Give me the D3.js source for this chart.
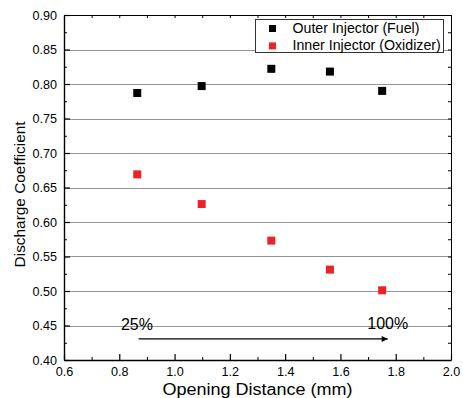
<!DOCTYPE html>
<html>
<head>
<meta charset="utf-8">
<script src="https://cdn.jsdelivr.net/npm/d3@7"></script>
<style>
  body { margin: 0; background: #fff; }
  svg { display: block; font-family: Arial, "Liberation Sans", sans-serif; }
  .grid line { stroke: #959595; stroke-width: 1; }
  .axis text { font-size: 12.6px; fill: #000; }
</style>
</head>
<body>
<svg width="463" height="398"></svg>
<script>
// opening distance (mm)
var openings = [0.865, 1.098, 1.35, 1.562, 1.751];
var outerCd = [0.787, 0.797, 0.822, 0.818, 0.790];
var innerCd = [0.669, 0.626, 0.573, 0.531, 0.501];
var seriesNames = ["Outer Injector (Fuel)", "Inner Injector (Oxidizer)"];
var seriesColors = ["#000000", "#ec2326"];
var xTicks = [0.6, 0.8, 1.0, 1.2, 1.4, 1.6, 1.8, 2.0];
var yTicks = [0.40, 0.45, 0.50, 0.55, 0.60, 0.65, 0.70, 0.75, 0.80, 0.85, 0.90];
var pctLabels = ["25%", "100%"];

var svg = d3.select("svg"),
    margin = {top: 15, right: 12, bottom: 38, left: 64},
    width = +svg.attr("width") - margin.left - margin.right,
    height = +svg.attr("height") - margin.top - margin.bottom;

var x = d3.scaleLinear().domain([0.6, 2.0]).range([0, width]),
    y = d3.scaleLinear().domain([0.40, 0.90]).range([height, 0]);

var g = svg.append("g")
    .attr("transform", "translate(" + margin.left + "," + margin.top + ")");

// horizontal grid
g.append("g")
    .attr("class", "grid")
    .selectAll("line")
    .data(yTicks.slice(1, -1))
    .enter().append("line")
    .attr("x1", 0)
    .attr("x2", width)
    .attr("y1", function(d) { return Math.round(y(d)) + 0.5; })
    .attr("y2", function(d) { return Math.round(y(d)) + 0.5; });

// minor ticks
var xMinor = d3.range(0.7, 2.0, 0.2),
    yMinor = d3.range(0.425, 0.9, 0.05);

var xAxis = d3.axisBottom(x).tickValues(xTicks).tickFormat(d3.format(".1f"))
    .tickSizeInner(-6).tickSizeOuter(0).tickPadding(7);
var yAxis = d3.axisLeft(y).tickValues(yTicks).tickFormat(d3.format(".2f"))
    .tickSizeInner(-6).tickSizeOuter(0).tickPadding(7);

var gx = g.append("g")
    .attr("class", "axis")
    .attr("transform", "translate(0," + height + ")")
    .call(xAxis);
gx.select(".domain").attr("stroke-width", 1.6);
gx.selectAll(".tick line").attr("stroke-width", 1.2);

var gy = g.append("g")
    .attr("class", "axis")
    .call(yAxis);
gy.select(".domain").attr("stroke-width", 1.4);
gy.selectAll(".tick line").attr("stroke-width", 1.2);

g.append("g").attr("transform", "translate(0," + height + ")")
    .call(d3.axisBottom(x).tickValues(xMinor).tickSize(-3).tickFormat(""))
    .call(function(s) { s.select(".domain").remove(); });
g.append("g")
    .call(d3.axisLeft(y).tickValues(yMinor).tickSize(-3).tickFormat(""))
    .call(function(s) { s.select(".domain").remove(); });

// top and right frame
g.append("g")
    .call(d3.axisTop(x).tickValues(d3.range(0.6, 2.01, 0.1)).tickSize(-3).tickSizeOuter(0).tickFormat(""));
g.append("g")
    .attr("transform", "translate(" + width + ",0)")
    .call(d3.axisRight(y).tickValues(d3.range(0.4, 0.901, 0.025)).tickSize(-3).tickSizeOuter(0).tickFormat(""));

// axis titles
svg.append("text")
    .attr("x", margin.left + x(1.3))
    .attr("y", 395)
    .attr("text-anchor", "middle")
    .attr("font-size", 16)
    .attr("textLength", 190)
    .attr("lengthAdjust", "spacingAndGlyphs")
    .text("Opening Distance (mm)");

svg.append("text")
    .attr("transform", "translate(25," + (margin.top + y(0.64)) + ") rotate(-90)")
    .attr("text-anchor", "middle")
    .attr("font-size", 15.4)
    .text("Discharge Coefficient");

// points
var series = [outerCd, innerCd];
series.forEach(function(vals, i) {
  g.selectAll(".pt" + i)
      .data(vals)
      .enter().append("rect")
      .attr("class", "pt" + i)
      .attr("x", function(d, j) { return x(openings[j]) - 4; })
      .attr("y", function(d) { return y(d) - 4; })
      .attr("width", 8)
      .attr("height", 8)
      .attr("fill", seriesColors[i]);
});

// arrow annotation
svg.append("defs").append("marker")
    .attr("id", "arrow")
    .attr("viewBox", "0 0 10 10")
    .attr("refX", 10).attr("refY", 5)
    .attr("markerWidth", 10).attr("markerHeight", 6)
    .attr("markerUnits", "userSpaceOnUse")
    .attr("orient", "auto")
    .append("path")
    .attr("d", "M0,0L10,5L0,10Z")
    .attr("fill", "#000");

g.append("line")
    .attr("x1", x(0.87)).attr("x2", x(1.771))
    .attr("y1", y(0.4305)).attr("y2", y(0.4305))
    .attr("stroke", "#000")
    .attr("stroke-width", 1.2)
    .attr("marker-end", "url(#arrow)");

g.append("text")
    .attr("x", x(0.806)).attr("y", y(0.4435))
    .attr("font-size", 16)
    .text(pctLabels[0]);
g.append("text")
    .attr("x", x(1.697)).attr("y", y(0.4445))
    .attr("font-size", 16)
    .text(pctLabels[1]);

// legend
var legend = svg.append("g").attr("transform", "translate(255.5,19.5)");
legend.append("rect")
    .attr("width", 188).attr("height", 33)
    .attr("fill", "#fff")
    .attr("stroke", "#333")
    .attr("stroke-width", 1);
seriesNames.forEach(function(name, i) {
  legend.append("rect")
      .attr("x", 13.5).attr("y", 5.5 + i * 17.4)
      .attr("width", 7).attr("height", 7)
      .attr("fill", seriesColors[i]);
  legend.append("text")
      .attr("x", 37).attr("y", 13.5 + i * 17.4)
      .attr("font-size", 14.2)
      .text(name);
});
</script>
</body>
</html>
